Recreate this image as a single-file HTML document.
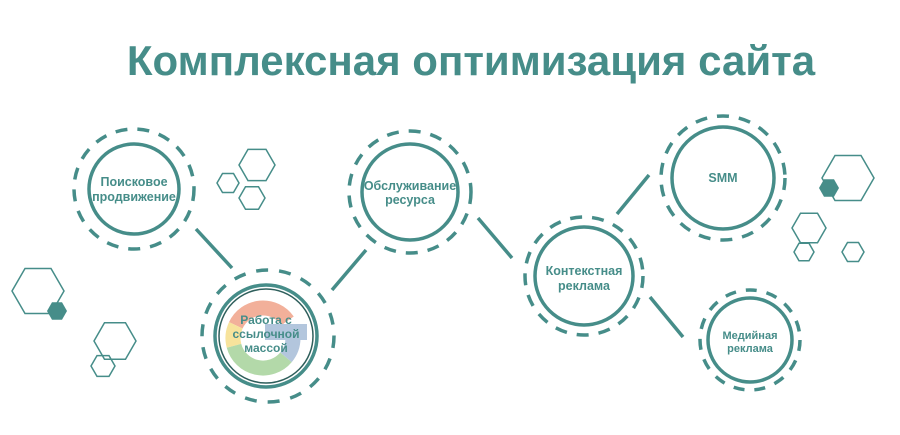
<!DOCTYPE html>
<html><head><meta charset="utf-8"><style>
html,body{margin:0;padding:0;background:#fff;}
svg{display:block;}
text{font-family:"Liberation Sans",sans-serif;font-weight:bold;fill:#468d89;text-anchor:middle;}
</style></head><body>
<svg width="900" height="435" viewBox="0 0 900 435" xmlns="http://www.w3.org/2000/svg">
<text x="471" y="75" font-size="42">Комплексная оптимизация сайта</text>

<g stroke="#468d89" fill="none" stroke-width="3.5" stroke-linecap="butt">
<!-- connectors -->
<line x1="196" y1="229" x2="232" y2="268"/>
<line x1="332" y1="290" x2="366" y2="250"/>
<line x1="478" y1="218" x2="512" y2="258"/>
<line x1="617" y1="214" x2="649" y2="175"/>
<line x1="650" y1="297" x2="683" y2="337"/>
</g>

<!-- google ring -->
<g fill="none" stroke-width="15">
<path d="M287.6 320.8 A30 30 0 0 0 235.8 325.3" stroke="#f2b09a"/>
<path d="M235.8 325.3 A30 30 0 0 0 234 345.8" stroke="#f7e39c"/>
<path d="M234 345.8 A30 30 0 0 0 286 357.3" stroke="#b3d9a9"/>
<path d="M286 357.3 A30 30 0 0 0 293 338" stroke="#b3c6dd"/>
</g>
<rect x="265" y="324" width="42" height="16" fill="#b3c6dd"/>

<g stroke="#468d89" fill="none">
<!-- node 1 -->
<circle cx="134" cy="189" r="45" stroke-width="3.5"/>
<circle cx="134" cy="189" r="60" stroke-width="3.5" stroke-dasharray="12 10"/>
<!-- node 2 -->
<circle cx="266" cy="336" r="51" stroke-width="3.5"/>
<circle cx="266" cy="336" r="47" stroke-width="1.5" stroke="#2f5f5c"/>
<circle cx="268" cy="336" r="66" stroke-width="3.5" stroke-dasharray="12 11"/>
<!-- node 3 -->
<circle cx="410" cy="192" r="48" stroke-width="3.5"/>
<circle cx="410" cy="192" r="61" stroke-width="3.5" stroke-dasharray="12 10"/>
<!-- node 4 -->
<circle cx="584" cy="276" r="49" stroke-width="3.5"/>
<circle cx="584" cy="276" r="59" stroke-width="3.5" stroke-dasharray="12 10"/>
<!-- SMM -->
<circle cx="723" cy="178" r="51" stroke-width="3.5"/>
<circle cx="723" cy="178" r="62" stroke-width="3.5" stroke-dasharray="12 10"/>
<!-- media -->
<circle cx="750" cy="340" r="42" stroke-width="3.5"/>
<circle cx="750" cy="340" r="50" stroke-width="3.5" stroke-dasharray="11 10"/>
</g>

<!-- hexagons (flat top): points at angles 0,60,...; r -->
<g stroke="#468d89" fill="none" stroke-width="1.5">
<polygon points="275,165 266,180.6 248,180.6 239,165 248,149.4 266,149.4"/>
<polygon points="239,183 233.5,192.5 222.5,192.5 217,183 222.5,173.5 233.5,173.5"/>
<polygon points="265,198 258.5,209.3 245.5,209.3 239,198 245.5,186.7 258.5,186.7"/>
<polygon points="64,291 51,313.5 25,313.5 12,291 25,268.5 51,268.5"/>
<polygon points="136,341 125.5,359.2 104.5,359.2 94,341 104.5,322.8 125.5,322.8"/>
<polygon points="115,366 109,376.4 97,376.4 91,366 97,355.6 109,355.6"/>
<polygon points="874,178 861,200.5 835,200.5 822,178 835,155.5 861,155.5"/>
<polygon points="826,228 817.5,242.7 800.5,242.7 792,228 800.5,213.3 817.5,213.3"/>
<polygon points="814,252 809,260.7 799,260.7 794,252 799,243.3 809,243.3"/>
<polygon points="864,252 858.5,261.5 847.5,261.5 842,252 847.5,242.5 858.5,242.5"/>
</g>
<g fill="#468d89">
<polygon points="67,311 62,319.7 52,319.7 47,311 52,302.3 62,302.3"/>
<polygon points="839,188 834,196.7 824,196.7 819,188 824,179.3 834,179.3"/>
</g>

<g font-size="12.5">
<text x="134" y="186">Поисковое</text>
<text x="134" y="201">продвижение</text>
<text x="266" y="324" font-size="12">Работа с</text>
<text x="266" y="338" font-size="12">ссылочной</text>
<text x="266" y="352" font-size="12">массой</text>
<text x="410" y="190">Обслуживание</text>
<text x="410" y="204">ресурса</text>
<text x="584" y="275">Контекстная</text>
<text x="584" y="290">реклама</text>
<text x="723" y="182">SMM</text>
<text x="750" y="339" font-size="11">Медийная</text>
<text x="750" y="352" font-size="11">реклама</text>
</g>
</svg>
</body></html>
